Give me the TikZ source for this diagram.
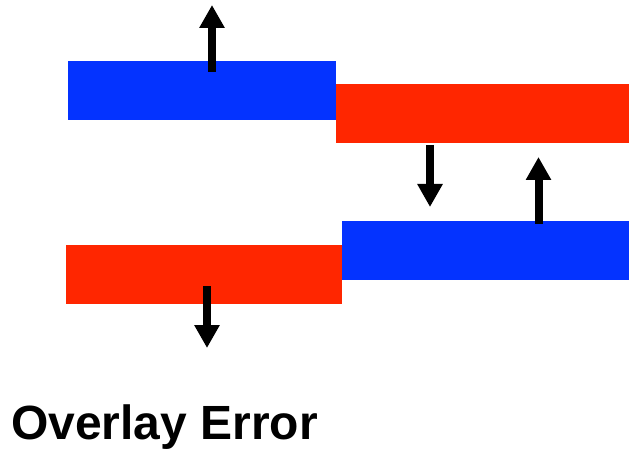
\documentclass[tikz,border=0pt]{standalone}
\usepackage{fontspec}
\setmainfont{Liberation Sans}
\usetikzlibrary{arrows.meta}
\definecolor{macblue}{RGB}{4,51,255}
\definecolor{macred}{RGB}{255,38,0}
\tikzset{
  bar/.style={draw=none, inner sep=0pt, minimum width=#1, minimum height=59pt, anchor=north west},
  bluebar/.style={bar=#1, fill=macblue},
  redbar/.style={bar=#1, fill=macred},
  arr/.style={line width=8pt, -{Triangle[width=24pt,length=23pt]}, black}
}
\begin{document}
\begin{tikzpicture}[x=1pt,y=-1pt]
\useasboundingbox (0,0) rectangle (629,449);
\node[bluebar=268pt] (b1) at (68,61) {};
\node[redbar=293pt] (r1) at (336,84) {};
\node[bluebar=287pt] (b2) at (342,221) {};
\node[redbar=276pt] (r2) at (66,245) {};
\coordinate (a1s) at (212,72); \coordinate (a1e) at (212,5);
\coordinate (a2s) at (430,145); \coordinate (a2e) at (430,207);
\coordinate (a3s) at (538.5,224); \coordinate (a3e) at (538.5,157);
\coordinate (a4s) at (207,286); \coordinate (a4e) at (207,348);
\draw[arr] (a1s) -- (a1e);
\draw[arr] (a2s) -- (a2e);
\draw[arr] (a3s) -- (a3e);
\draw[arr] (a4s) -- (a4e);
\node[anchor=base west, inner sep=0pt, font=\fontsize{48}{50}\selectfont\bfseries] (title) at (11,439) {Overlay Error};
\end{tikzpicture}
\end{document}
